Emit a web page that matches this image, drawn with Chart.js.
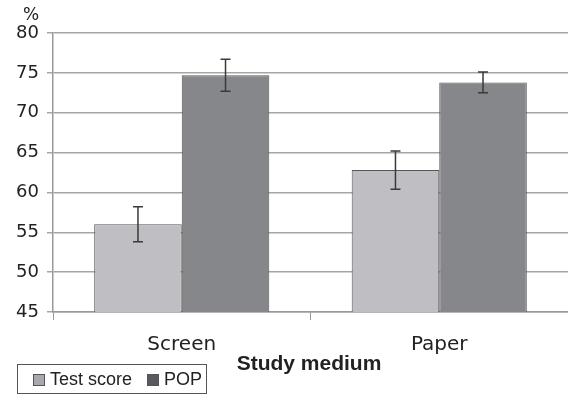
<!DOCTYPE html>
<html>
<head>
<meta charset="utf-8">
<script src="https://cdn.jsdelivr.net/npm/chart.js@4/dist/chart.umd.min.js"></script>
<style>
  html, body { margin: 0; padding: 0; background: #fff; }
  #wrap { position: relative; width: 568px; height: 395px; }
  #pct { position: absolute; left: 23px; top: 4px; font: 17px "DejaVu Sans", sans-serif; color: #222; }
  #xtitle { position: absolute; left: 0; width: 618px; top: 351px; text-align: center;
            font: bold 21px "Liberation Sans", Arial, sans-serif; color: #222; }
  #legend { position: absolute; left: 17px; top: 364px; width: 190px; height: 30px;
            border: 1px solid #555; font: 18px "Liberation Sans", Arial, sans-serif; color: #222;
            display: flex; align-items: center; box-sizing: border-box; padding-top: 1px; }
  .sw { display: inline-block; width: 10px; height: 10px; border: 1px solid #555; margin: 0 5px 0 0; }
  .item { display: flex; align-items: center; }
</style>
</head>
<body>
<div id="wrap">
  <canvas id="chart" width="568" height="395"></canvas>
  <div id="pct">%</div>
  <div id="xtitle">Study medium</div>
  <div id="legend"></div>
</div>
<script>
// data
const categories = ["Screen", "Paper"];
const seriesNames = ["Test score", "POP"];
const testScore = [56.0, 62.8];
const testScoreErr = [2.2, 2.4];
const pop = [74.7, 73.8];
const popErr = [2.0, 1.3];
const yTicks = [45, 50, 55, 60, 65, 70, 75, 80];

const colors = ["#bfbfc3", "#86878b"];

// error bars drawn on top of the bars
const errorBars = {
    id: "errorBars",
    afterDatasetsDraw(chart) {
        const ctx = chart.ctx;
        const yScale = chart.scales.y;
        chart.data.datasets.forEach((ds, i) => {
            const meta = chart.getDatasetMeta(i);
            meta.data.forEach((bar, j) => {
                const v = ds.data[j];
                const e = ds.errors[j];
                const top = yScale.getPixelForValue(v + e);
                const bot = yScale.getPixelForValue(v - e);
                ctx.save();
                ctx.strokeStyle = "#3a3a3a";
                ctx.lineWidth = 1.5;
                ctx.beginPath();
                ctx.moveTo(bar.x, top);
                ctx.lineTo(bar.x, bot);
                ctx.moveTo(bar.x - 5, top);
                ctx.lineTo(bar.x + 5, top);
                ctx.moveTo(bar.x - 5, bot);
                ctx.lineTo(bar.x + 5, bot);
                ctx.stroke();
                ctx.restore();
            });
        });
    }
};

new Chart(document.getElementById("chart"), {
    type: "bar",
    data: {
        labels: categories,
        datasets: [
            {
                label: seriesNames[0],
                data: testScore,
                errors: testScoreErr,
                backgroundColor: colors[0],
                borderColor: "#555",
                borderWidth: 1,
                categoryPercentage: 0.68,
                barPercentage: 1.0
            },
            {
                label: seriesNames[1],
                data: pop,
                errors: popErr,
                backgroundColor: colors[1],
                borderColor: "#555",
                borderWidth: 1,
                categoryPercentage: 0.68,
                barPercentage: 1.0
            }
        ]
    },
    options: {
        responsive: false,
        animation: false,
        layout: { padding: { top: 33, right: 0, left: 0, bottom: 0 } },
        plugins: {
            legend: { display: false },
            tooltip: { enabled: false }
        },
        scales: {
            x: {
                grid: {
                    offset: true,
                    drawOnChartArea: false,
                    tickLength: 8,
                    color: "#999"
                },
                border: { color: "#999", width: 1.5 },
                ticks: {
                    color: "#222",
                    padding: 13,
                    font: { family: "DejaVu Sans", size: 20 }
                },
                afterFit(scale) { scale.height = 83; }
            },
            y: {
                min: 45,
                max: 80,
                afterBuildTicks(scale) { scale.ticks = yTicks.map(v => ({ value: v })); },
                grid: { color: "#a5a5a5", lineWidth: 1.5, tickLength: 6 },
                border: { color: "#999", width: 1.5 },
                ticks: {
                    color: "#222",
                    padding: 8,
                    font: { family: "DejaVu Sans", size: 18 }
                },
                afterFit(scale) { scale.width = 53; }
            }
        }
    },
    plugins: [errorBars]
});

// legend box
const legend = document.getElementById("legend");
seriesNames.forEach((name, i) => {
    const item = document.createElement("span");
    item.className = "item";
    item.style.marginLeft = i === 0 ? "15px" : "15px";
    const sw = document.createElement("span");
    sw.className = "sw";
    sw.style.background = i === 0 ? "#a9a9ad" : "#5a5a5e";
    item.appendChild(sw);
    item.appendChild(document.createTextNode(name));
    legend.appendChild(item);
});
</script>
</body>
</html>
